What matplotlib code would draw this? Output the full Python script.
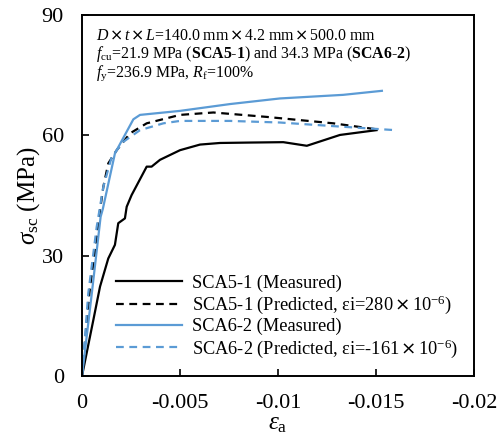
import matplotlib
matplotlib.use("Agg")
import matplotlib.pyplot as plt

# --- DATA ---------------------------------------------------------------
sca51_meas_x = [0, -0.00058, -0.00092, -0.00134, -0.00168, -0.00185, -0.00219,
                -0.00228, -0.00253, -0.0033, -0.00355, -0.00398, -0.005,
                -0.00602, -0.00704, -0.0085, -0.01027, -0.01147, -0.01316,
                -0.01503]
sca51_meas_y = [0, 14.0, 22.3, 29.3, 32.7, 38.1, 39.3, 42.2, 45.1, 52.2, 52.2,
                53.9, 56.3, 57.7, 58.1, 58.2, 58.3, 57.4, 60.1, 61.3]

sca51_pred_x = [0, -0.00041, -0.00066, -0.00092, -0.00109, -0.00134, -0.00177,
                -0.00245, -0.0033, -0.005, -0.0067, -0.00942, -0.01282,
                -0.01503]
sca51_pred_y = [0, 22.3, 30.6, 41.4, 47.2, 53.0, 56.3, 60.5, 63.0, 65.1, 65.7,
                64.6, 63.0, 61.5]

sca62_meas_x = [0, -0.0005, -0.00095, -0.00106, -0.00168, -0.00262, -0.00296,
                -0.005, -0.00755, -0.0101, -0.01333, -0.0153]
sca62_meas_y = [0, 20.6, 39.7, 41.6, 55.5, 64.0, 65.1, 66.1, 67.8, 69.2, 70.1,
                71.1]

sca62_pred_x = [0, -0.00032, -0.00075, -0.00109, -0.00152, -0.00211, -0.00296,
                -0.00415, -0.005, -0.00755, -0.0101, -0.01282, -0.01503,
                -0.01597]
sca62_pred_y = [0, 20.6, 37.2, 47.2, 54.7, 58.4, 61.3, 63.0, 63.6, 63.6, 63.2,
                62.3, 61.6, 61.3]

x_ticks = [0, -0.005, -0.01, -0.015, -0.02]
x_tick_labels = ["0", "-0.005", "-0.01", "-0.015", "-0.02"]
y_ticks = [0, 30, 60, 90]
# -----------------------------------------------------------------------

plt.rcParams["font.family"] = ["Liberation Serif", "DejaVu Serif"]
plt.rcParams["mathtext.fontset"] = "custom"
plt.rcParams["mathtext.rm"] = "Liberation Serif"
plt.rcParams["mathtext.it"] = "Liberation Serif:italic"
plt.rcParams["mathtext.bf"] = "Liberation Serif:bold"
plt.rcParams["mathtext.sf"] = "Noto Sans CJK SC"   # wide multiplication sign

blue = "#5B9BD5"
X = r"$\,\mathsf{×}\,$"                  # legend
XT = r"$\hspace{0.15}\mathsf{×}\hspace{0.15}$"  # annotation

fig = plt.figure(figsize=(5.04, 4.43), dpi=100)
ax = fig.add_axes([0.1627, 0.1512, 0.7778, 0.8149])

ax.plot(sca51_meas_x, sca51_meas_y, color="black", lw=1.6,
        label="SCA5-1 (Measured)")
ax.plot(sca51_pred_x, sca51_pred_y, color="black", lw=1.6, ls=(0, (3.5, 2.5)),
        label="SCA5-1 (Predicted, εi=280" + X + "10$^{-6}$)")
ax.plot(sca62_meas_x, sca62_meas_y, color=blue, lw=1.6,
        label="SCA6-2 (Measured)")
ax.plot(sca62_pred_x, sca62_pred_y, color=blue, lw=1.6, ls=(0, (3.5, 2.5)),
        label="SCA6-2 (Predicted, εi=-161" + X + "10$^{-6}$)")

ax.set_xlim(0, -0.02)
ax.set_ylim(0, 90)
ax.set_xticks(x_ticks)
ax.set_xticklabels(x_tick_labels)
ax.set_yticks(y_ticks)
ax.tick_params(direction="in", length=5, width=1.2, labelsize=16, pad=13)
for s in ax.spines.values():
    s.set_linewidth(1.4)

ax.set_xlabel(r"$\varepsilon_{\rm a}$", fontsize=18, labelpad=0)
ax.set_ylabel(r"$\sigma_{\rm sc}$ (MPa)", fontsize=18, labelpad=0)

ax.text(0.035, 0.965,
        "$D$" + XT + "$t$" + XT + "$L$=140.0 mm" + XT + "4.2 mm" + XT + "500.0 mm\n"
        r"$f_{\rm cu}$=21.9 MPa ($\mathbf{SCA5}$-$\mathbf{1}$) and 34.3 MPa ($\mathbf{SCA6}$-$\mathbf{2}$)" "\n"
        r"$f_{\rm y}$=236.9 MPa, $R_{\rm f}$=100%",
        transform=ax.transAxes, ha="left", va="top", fontsize=11.4,
        linespacing=1.0)

ax.legend(loc="lower left", bbox_to_anchor=(0.045, 0.0), frameon=False,
          fontsize=13.2, handlelength=3.6, labelspacing=0.1,
          handletextpad=0.55)

fig.savefig("out.png", dpi=100)
